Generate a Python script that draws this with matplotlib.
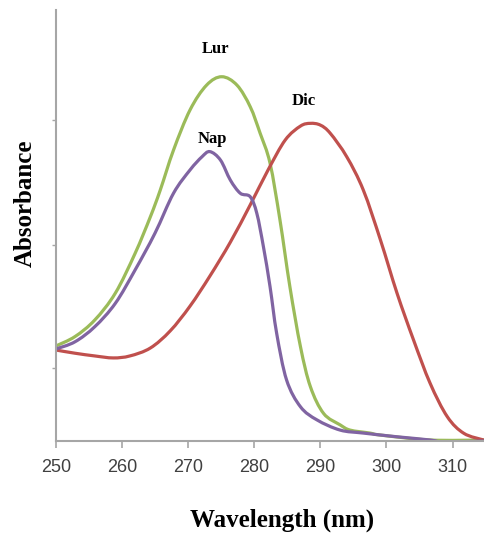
import numpy as np
import matplotlib.pyplot as plt
from matplotlib.path import Path
from matplotlib.patches import PathPatch

# Values (wavelength in nm, absorbance in arbitrary units)
lur_wl = [250.0, 252.9, 255.9, 259.0, 262.0, 264.3, 265.8, 267.8, 270.3, 272.8, 275.1,
          277.4, 279.4, 280.9, 282.4, 283.9, 285.4, 287.0, 288.5, 290.5, 293.0, 294.5,
          297.5, 299.1, 306.6, 314.9]
lur_abs = [0.383, 0.421, 0.488, 0.596, 0.757, 0.904, 1.012, 1.173, 1.335, 1.435, 1.469,
           1.435, 1.348, 1.241, 1.120, 0.891, 0.622, 0.380, 0.219, 0.111, 0.065, 0.044,
           0.032, 0.024, 0.004, 0.004]

nap_wl = [250.0, 252.9, 255.9, 259.0, 262.0, 265.0, 267.8, 270.3, 272.1, 273.3, 274.9,
          276.4, 277.9, 279.4, 280.4, 281.4, 282.4, 283.4, 284.9, 287.0, 289.5, 293.0,
          296.5, 301.6, 306.6, 308.6, 311.6, 314.9]
nap_abs = [0.371, 0.400, 0.461, 0.555, 0.690, 0.838, 0.999, 1.093, 1.146, 1.167, 1.133,
           1.052, 0.999, 0.985, 0.918, 0.783, 0.622, 0.434, 0.246, 0.138, 0.085, 0.044,
           0.032, 0.017, 0.004, -0.006, -0.003, 0.000]

dic_wl = [250.0, 252.9, 255.9, 258.7, 261.2, 264.3, 267.3, 270.3, 273.3, 276.4, 279.4,
          282.1, 284.7, 287.0, 288.5, 290.0, 291.5, 294.0, 296.5, 299.1, 301.6, 304.1,
          306.6, 309.2, 311.7, 314.7]
dic_abs = [0.367, 0.354, 0.343, 0.335, 0.343, 0.375, 0.444, 0.544, 0.665, 0.802, 0.952,
           1.093, 1.214, 1.270, 1.281, 1.274, 1.241, 1.146, 1.012, 0.810, 0.596, 0.407,
           0.233, 0.098, 0.031, 0.004]

x_ticks = [250, 260, 270, 280, 290, 300, 310]
y_ticks = [0.294, 0.790, 1.294]


def smooth_line(ax, x, y, color):
    # Excel-style smoothed line: cubic Bezier segments through the data points
    p = np.column_stack([x, y])
    ext = np.vstack([p[0], p, p[-1]])
    verts = [p[0]]
    codes = [Path.MOVETO]
    for i in range(len(p) - 1):
        c1 = ext[i + 1] + (ext[i + 2] - ext[i]) / 6
        c2 = ext[i + 2] - (ext[i + 3] - ext[i + 1]) / 6
        verts += [c1, c2, p[i + 1]]
        codes += [Path.CURVE4] * 3
    patch = PathPatch(Path(verts, codes), facecolor='none', edgecolor=color,
                      linewidth=2.3, capstyle='round', joinstyle='round')
    ax.add_patch(patch)


fig = plt.figure(figsize=(4.85, 5.33), dpi=100)
ax = fig.add_axes([0.115, 0.1726, 0.885, 0.8086])

smooth_line(ax, lur_wl, lur_abs, '#9BBB59')
smooth_line(ax, dic_wl, dic_abs, '#C0504D')
smooth_line(ax, nap_wl, nap_abs, '#8064A2')

label_font = dict(family='Liberation Serif', fontweight='bold', fontsize=12, color='black')
ax.text(274.1, 1.58, 'Lur', ha='center', va='center', **label_font)
ax.text(287.5, 1.371, 'Dic', ha='center', va='center', **label_font)
ax.text(273.7, 1.218, 'Nap', ha='center', va='center', **label_font)

ax.set_xlim(250, 314.9)
ax.set_ylim(0, 1.738)
ax.set_xticks(x_ticks)
ax.set_yticks(y_ticks)
ax.set_yticklabels([])

for side in ['top', 'right']:
    ax.spines[side].set_visible(False)
for side in ['left', 'bottom']:
    ax.spines[side].set_color('#A6A6A6')
    ax.spines[side].set_linewidth(1.5)

ax.tick_params(axis='x', direction='out', length=5, width=1.2, color='#A6A6A6',
               labelsize=13, labelcolor='#404040', pad=8)
ax.tick_params(axis='y', direction='out', length=3, width=1.0, color='#A6A6A6')
for lbl in ax.get_xticklabels():
    lbl.set_family('Liberation Sans')

fig.text(0.581, 0.024, 'Wavelength (nm)', ha='center', va='center',
         family='Liberation Serif', fontweight='bold', fontsize=18)
fig.text(0.052, 0.619, 'Absorbance', ha='center', va='center', rotation=90,
         family='Liberation Serif', fontweight='bold', fontsize=18)

plt.savefig('out.png', dpi=100)
